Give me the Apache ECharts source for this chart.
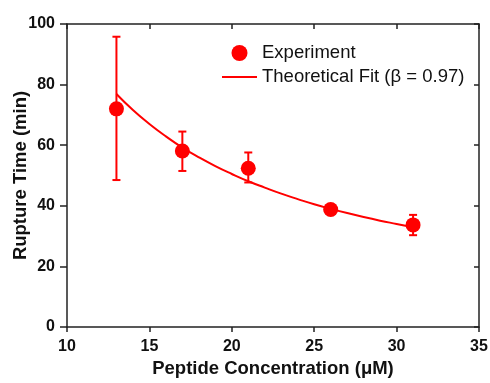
<!DOCTYPE html>
<html>
<head>
<meta charset="utf-8">
<script src="https://cdn.jsdelivr.net/npm/echarts@6/dist/echarts.min.js"></script>
<style>
  html, body { margin: 0; padding: 0; background: #fff; }
  #chart { width: 490px; height: 383px; }
</style>
</head>
<body>
<div id="chart"></div>
<script>
// measured points
var concentration = [13, 17, 21, 26, 31]
var ruptureTime = [72.0, 58.1, 52.4, 38.8, 33.7]
var errLow = [48.5, 51.5, 47.7, 38.0, 30.3]
var errHigh = [95.8, 64.5, 57.6, 39.6, 37.0]

// theoretical fit curve
var fitX = [13, 14, 15, 16, 17, 18, 19, 20, 21, 22, 23, 24, 25, 26, 27, 28, 29, 30, 31]
var fitY = [76.9, 71.6, 67.0, 62.9, 59.2, 56.0, 53.1, 50.5, 48.1, 46.0, 44.0, 42.2, 40.5, 39.0, 37.6, 36.3, 35.1, 34.0, 32.9]

var RED = '#ff0000'
var FONT = 'Liberation Sans, Arial, sans-serif'

var chart = echarts.init(document.getElementById('chart'))

var pointData = concentration.map(function (x, i) { return [x, ruptureTime[i]] })
var errData = concentration.map(function (x, i) { return [x, errLow[i], errHigh[i]] })
var fitData = fitX.map(function (x, i) { return [x, fitY[i]] })

var axisLine = { show: true, onZero: false, lineStyle: { color: '#222', width: 1.5 } }
var nameStyle = { fontFamily: FONT, fontSize: 18.5, fontWeight: 'bold', color: '#111' }
var labelStyle = { fontFamily: FONT, fontSize: 16, fontWeight: 'bold', color: '#111' }

chart.setOption({
  animation: false,
  grid: { left: 67, right: 11, top: 24, bottom: 56, outerBoundsMode: 'none' },
  legend: {
    orient: 'vertical',
    left: 221,
    top: 43.5,
    padding: 0,
    itemWidth: 35,
    itemHeight: 16,
    itemGap: 5,
    textStyle: { fontFamily: FONT, fontSize: 18.5, lineHeight: 16, color: '#111' },
    data: [
      { name: 'Experiment', icon: 'circle' },
      { name: 'Theoretical Fit (β = 0.97)', itemStyle: { opacity: 0 } }
    ]
  },
  xAxis: [{
    type: 'value',
    position: 'bottom',
    min: 10,
    max: 35,
    interval: 5,
    name: 'Peptide Concentration (μM)',
    nameLocation: 'middle',
    nameGap: 32,
    nameMoveOverlap: false,
    nameTextStyle: nameStyle,
    axisLine: axisLine,
    axisTick: { show: true, length: 5, lineStyle: { color: '#222', width: 1.5 } },
    axisLabel: Object.assign({ margin: 12 }, labelStyle),
    splitLine: { show: false }
  }, {
    type: 'value',
    position: 'top',
    min: 10,
    max: 35,
    interval: 5,
    axisLine: axisLine,
    axisTick: { show: true, inside: true, length: 5, lineStyle: { color: '#222', width: 1.5 } },
    axisLabel: { show: false },
    splitLine: { show: false }
  }],
  yAxis: [{
    type: 'value',
    position: 'left',
    min: 0,
    max: 100,
    interval: 20,
    name: 'Rupture Time (min)',
    nameLocation: 'middle',
    nameGap: 37,
    nameMoveOverlap: false,
    nameTextStyle: nameStyle,
    axisLine: axisLine,
    axisTick: { show: true, length: 7, lineStyle: { color: '#222', width: 1.5 } },
    axisLabel: Object.assign({ margin: 12 }, labelStyle),
    splitLine: { show: false }
  }, {
    type: 'value',
    position: 'right',
    min: 0,
    max: 100,
    interval: 20,
    axisLine: axisLine,
    axisTick: { show: true, inside: true, length: 5, lineStyle: { color: '#222', width: 1.5 } },
    axisLabel: { show: false },
    splitLine: { show: false }
  }],
  series: [{
    name: 'Theoretical Fit (β = 0.97)',
    type: 'line',
    data: fitData,
    smooth: true,
    symbol: 'none',
    lineStyle: { color: RED, width: 2 },
    itemStyle: { color: RED },
    z: 2
  }, {
    name: 'Experiment',
    type: 'custom',
    data: errData,
    renderItem: function (params, api) {
      var x = api.value(0)
      var lo = api.coord([x, api.value(1)])
      var hi = api.coord([x, api.value(2)])
      var cap = 4
      var style = { stroke: RED, lineWidth: 2 }
      return {
        type: 'group',
        children: [
          { type: 'line', shape: { x1: lo[0], y1: lo[1], x2: hi[0], y2: hi[1] }, style: style },
          { type: 'line', shape: { x1: lo[0] - cap, y1: lo[1], x2: lo[0] + cap, y2: lo[1] }, style: style },
          { type: 'line', shape: { x1: hi[0] - cap, y1: hi[1], x2: hi[0] + cap, y2: hi[1] }, style: style }
        ]
      }
    },
    itemStyle: { color: RED },
    z: 3
  }, {
    name: 'Experiment',
    type: 'scatter',
    data: pointData,
    symbol: 'circle',
    symbolSize: 15,
    itemStyle: { color: RED, opacity: 1 },
    z: 4
  }]
})
</script>
</body>
</html>
